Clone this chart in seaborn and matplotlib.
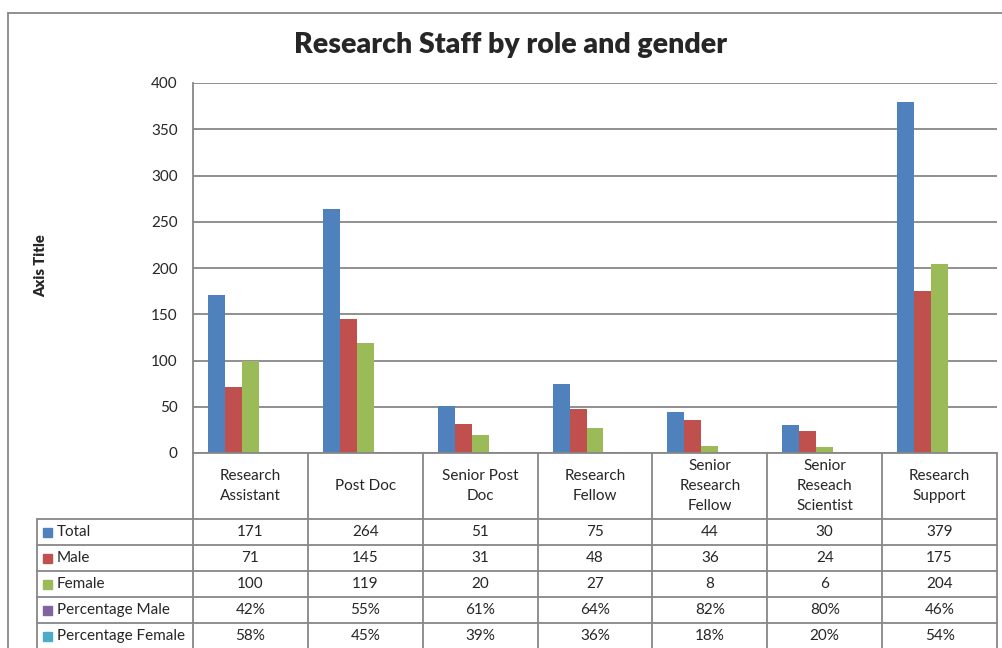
import pandas as pd
import seaborn as sns
import matplotlib.pyplot as plt
from matplotlib.transforms import blended_transform_factory
from matplotlib.lines import Line2D
from matplotlib.patches import Rectangle

roles = ["Research\nAssistant", "Post Doc", "Senior Post\nDoc", "Research\nFellow",
         "Senior\nResearch\nFellow", "Senior\nReseach\nScientist", "Research\nSupport"]
total = [171, 264, 51, 75, 44, 30, 379]
male = [71, 145, 31, 48, 36, 24, 175]
female = [100, 119, 20, 27, 8, 6, 204]
pct_male = [0.42, 0.55, 0.61, 0.64, 0.82, 0.80, 0.46]
pct_female = [0.58, 0.45, 0.39, 0.36, 0.18, 0.20, 0.54]

series = ["Total", "Male", "Female", "Percentage Male", "Percentage Female"]
colors = ["#4F81BD", "#C0504D", "#9BBB59", "#8064A2", "#4BACC6"]
values = [total, male, female, pct_male, pct_female]

rows = []
for name, vals in zip(series, values):
    for role, v in zip(roles, vals):
        rows.append({"role": role, "series": name, "value": v})
df = pd.DataFrame(rows)

sns.set_style("white")
plt.rcParams['font.family'] = ['Lato', 'DejaVu Sans']

W, H = 1003, 648
fig = plt.figure(figsize=(W / 100, H / 100), dpi=100)
ax = fig.add_axes([193 / W, 1 - 453 / H, (997 - 193) / W, (453 - 83) / H])

sns.barplot(data=df, x="role", y="value", hue="series", order=roles,
            hue_order=series, palette=colors, saturation=1, width=0.74,
            linewidth=0, legend=False, ax=ax)

grey = "#878787"
ax.set_xlim(-0.5, len(roles) - 0.5)
ax.set_ylim(0, 400)
ax.set_yticks(range(0, 401, 50))
ax.yaxis.grid(True, color=grey, lw=1.3)
ax.set_axisbelow(True)
ax.tick_params(axis="y", length=0, pad=11, labelsize=11)
ax.set_xticks([])
ax.set_xlabel("")
ax.set_ylabel("")
for s in ["top", "right"]:
    ax.spines[s].set_visible(False)
for s in ["left", "bottom"]:
    ax.spines[s].set_color(grey)
    ax.spines[s].set_linewidth(1.3)

def fy(px):
    return 1 - px / H

def fx(px):
    return px / W

# data table under the plot
bt = blended_transform_factory(ax.transData, fig.transFigure)
row_lines = [519, 545, 571, 597, 623]
for i in range(len(roles) + 1):
    fig.add_artist(Line2D([i - 0.5, i - 0.5], [fy(453), 0], transform=bt,
                          color=grey, lw=1.3))
for y in row_lines:
    fig.add_artist(Line2D([fx(37), fx(997)], [fy(y), fy(y)], color=grey, lw=1.3))
fig.add_artist(Line2D([fx(37), fx(37)], [fy(519), 0], color=grey, lw=1.3))

for i, role in enumerate(roles):
    fig.text(i, fy(486), role, transform=bt, ha="center", va="center",
             fontsize=11, linespacing=1.5)

for r, (name, vals, c) in enumerate(zip(series, values, colors)):
    yc = fy(row_lines[r] + 13)
    fig.add_artist(Rectangle((fx(43), yc - 4.5 / H), 9 / W, 9 / H, color=c))
    fig.text(fx(57), yc, name, ha="left", va="center", fontsize=11)
    for i, v in enumerate(vals):
        label = f"{v:.0%}" if name.startswith("Percentage") else str(v)
        fig.text(i, yc, label, transform=bt, ha="center", va="center", fontsize=11)

# outer chart frame
fig.add_artist(Line2D([fx(8), fx(8)], [fy(13), 0], color=grey, lw=1.3))
fig.add_artist(Line2D([fx(8), 1], [fy(13), fy(13)], color=grey, lw=1.3))

fig.text(fx(511), fy(45), "Research Staff by role and gender", ha="center",
         va="center", fontsize=20.5, fontweight="heavy")
fig.text(fx(41), fy(266), "Axis Title", rotation=90, ha="center", va="center",
         fontsize=10.5, fontweight="heavy")

fig.savefig("out.png", dpi=100)
